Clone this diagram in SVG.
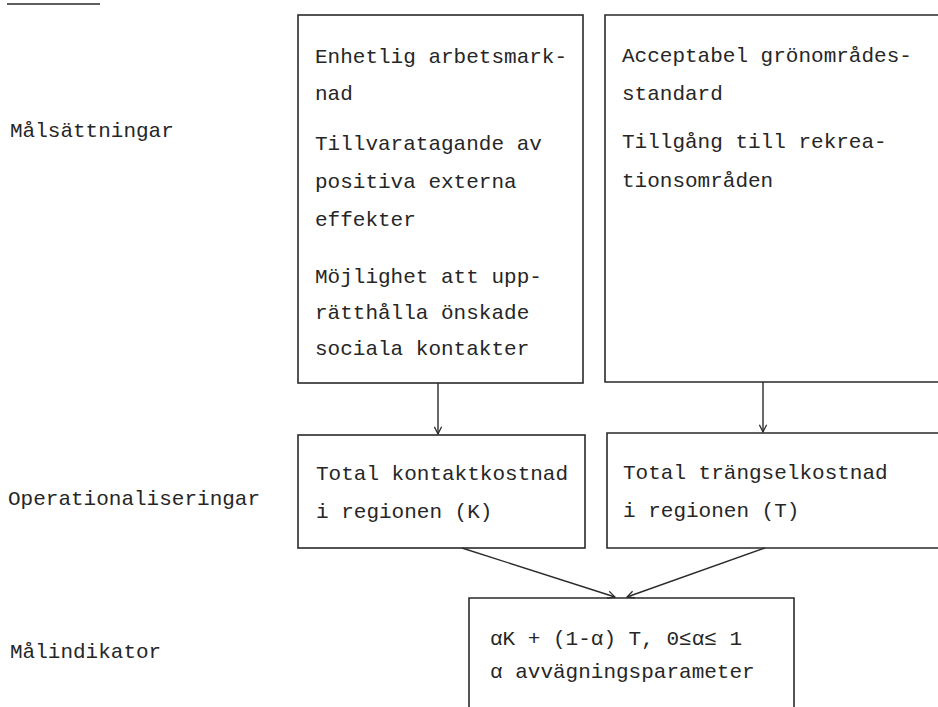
<svg xmlns="http://www.w3.org/2000/svg" width="938" height="707" viewBox="0 0 938 707">
<style>
  text { font-family: "Liberation Mono", "DejaVu Sans Mono", monospace; font-size: 21px; fill: #262626; }
  .box { fill: none; stroke: #2a2a2a; stroke-width: 1.6; }
  .conn { fill: none; stroke: #2a2a2a; stroke-width: 1.4; }
</style>
<defs>
  <marker id="ah" viewBox="0 0 10 10" refX="9" refY="5" markerWidth="9" markerHeight="9" markerUnits="userSpaceOnUse" orient="auto">
    <path d="M1,1 L9,5 L1,9" fill="none" stroke="#2a2a2a" stroke-width="1.4"/>
  </marker>
</defs>
<rect width="938" height="707" fill="#ffffff"/>
<line x1="7" y1="4" x2="100" y2="4" stroke="#2a2a2a" stroke-width="1.6"/>

<g id="labels">
  <text x="10" y="137">Målsättningar</text>
  <text x="8" y="505">Operationaliseringar</text>
  <text x="10" y="658">Målindikator</text>
</g>

<g id="node-mal1">
  <rect class="box" x="298" y="15" width="285" height="368"/>
  <text x="315" y="63">Enhetlig arbetsmark-</text>
  <text x="315" y="100">nad</text>
  <text x="315" y="150">Tillvaratagande av</text>
  <text x="315" y="188">positiva externa</text>
  <text x="315" y="226">effekter</text>
  <text x="315" y="283">Möjlighet att upp-</text>
  <text x="315" y="319">rätthålla önskade</text>
  <text x="315" y="355">sociala kontakter</text>
</g>

<g id="node-mal2">
  <path class="box" d="M945,15 L605,15 L605,382 L945,382"/>
  <text x="622" y="62">Acceptabel grönområdes-</text>
  <text x="622" y="100">standard</text>
  <text x="622" y="148">Tillgång till rekrea-</text>
  <text x="622" y="187">tionsområden</text>
</g>

<g id="node-K">
  <rect class="box" x="298" y="435" width="287" height="113"/>
  <text x="316" y="480">Total kontaktkostnad</text>
  <text x="316" y="518">i regionen (K)</text>
</g>

<g id="node-T">
  <path class="box" d="M945,433 L607,433 L607,548 L945,548"/>
  <text x="623" y="479">Total trängselkostnad</text>
  <text x="623" y="517">i regionen (T)</text>
</g>

<g id="node-ind">
  <path class="box" d="M469,712 L469,598 L794,598 L794,712"/>
  <text x="490" y="645">αK + (1-α) T, 0≤α≤ 1</text>
  <text x="490" y="678">α avvägningsparameter</text>
</g>

<g id="connectors">
  <line class="conn" x1="438" y1="383" x2="438" y2="434" marker-end="url(#ah)"/>
  <line class="conn" x1="763" y1="382" x2="763" y2="432" marker-end="url(#ah)"/>
  <line class="conn" x1="462" y1="548" x2="615" y2="597" marker-end="url(#ah)"/>
  <line class="conn" x1="765" y1="548" x2="627" y2="597" marker-end="url(#ah)"/>
</g>
</svg>
